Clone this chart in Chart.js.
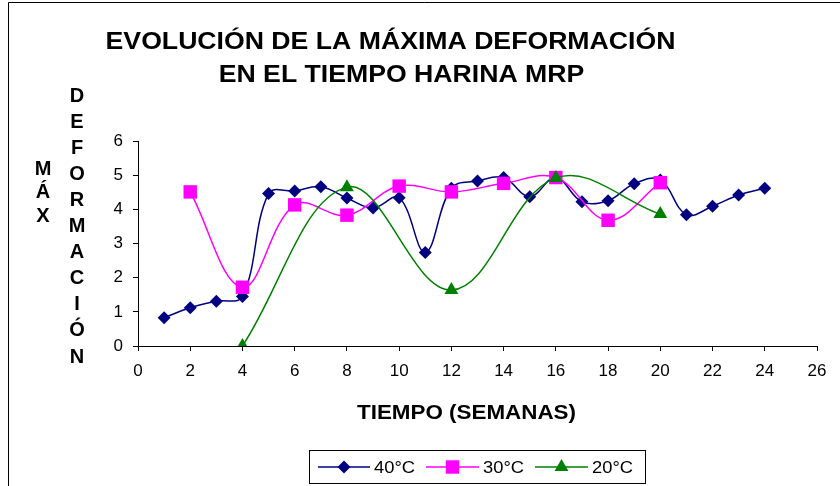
<!DOCTYPE html>
<html>
<head>
<meta charset="utf-8">
<style>
  html, body { margin: 0; padding: 0; background: #ffffff; }
  #wrap { position: relative; width: 840px; height: 486px; }
</style>
<script src="https://cdn.jsdelivr.net/npm/chart.js@4.4.1/dist/chart.umd.min.js"></script>
</head>
<body>
<div id="wrap"><canvas id="chart" width="840" height="486"></canvas></div>
<script>
// Weeks sampled for each temperature series
const weeks40 = [1, 2, 3, 4, 5, 6, 7, 8, 9, 10, 11, 12, 13, 14, 15, 16, 17, 18, 19, 20, 21, 22, 23, 24];
const deform40 = [0.83, 1.12, 1.31, 1.45, 4.46, 4.54, 4.66, 4.33, 4.04, 4.34, 2.74, 4.62, 4.83, 4.93, 4.37, 4.93, 4.22, 4.25, 4.75, 4.86, 3.84, 4.09, 4.42, 4.62];

const weeks30 = [2, 4, 6, 8, 10, 12, 14, 16, 18, 20];
const deform30 = [4.51, 1.72, 4.13, 3.83, 4.68, 4.51, 4.76, 4.93, 3.68, 4.78];

const weeks20 = [4, 8, 12, 16, 20];
const deform20 = [0, 4.65, 1.64, 4.92, 3.86];

const seriesNames = ['40°C', '30°C', '20°C'];
const titleLines = ['EVOLUCIÓN DE LA MÁXIMA DEFORMACIÓN', 'EN EL TIEMPO HARINA MRP'];
const xTitle = 'TIEMPO (SEMANAS)';
const yTitleWords = ['MÁX', 'DEFORMACIÓN'];

const FONT = '"Liberation Sans", Arial, sans-serif';

function toPoints(xs, ys) {
  return xs.map((x, i) => ({ x: x, y: ys[i] }));
}

// Text drawn with a slight horizontal widening
function wideText(ctx, text, x, y, sx) {
  ctx.save();
  ctx.translate(x, y);
  ctx.scale(sx, 1);
  ctx.fillText(text, 0, 0);
  ctx.restore();
}

const styles = [
  { color: '#000080', pointStyle: 'rectRot', radius: 6.5 },
  { color: '#FF00FF', pointStyle: 'rect', radius: 9.5 },
  { color: '#008000', pointStyle: 'triangle', radius: 8 }
];

// Titles, stacked y-axis caption, legend box and frame lines
const decorPlugin = {
  id: 'decor',
  afterDraw(chart) {
    const ctx = chart.ctx;
    ctx.save();

    // frame
    ctx.strokeStyle = '#000000';
    ctx.lineWidth = 1;
    ctx.beginPath();
    ctx.moveTo(8.5, 486);
    ctx.lineTo(8.5, 2.5);
    ctx.lineTo(840, 2.5);
    ctx.stroke();

    ctx.fillStyle = '#000000';
    ctx.textAlign = 'center';
    ctx.textBaseline = 'middle';

    // main title
    ctx.font = 'bold 24px ' + FONT;
    wideText(ctx, titleLines[0], 390.5, 42, 1.11);
    wideText(ctx, titleLines[1], 401.5, 75, 1.11);

    // x-axis title
    ctx.font = 'bold 20px ' + FONT;
    wideText(ctx, xTitle, 466.5, 413, 1.12);

    // y-axis title, letters stacked vertically
    ctx.font = 'bold 20px ' + FONT;
    const w1 = Array.from(yTitleWords[0]);
    w1.forEach((ch, i) => ctx.fillText(ch, 43, 169 + i * 23.5));
    const w2 = Array.from(yTitleWords[1]);
    w2.forEach((ch, i) => ctx.fillText(ch, 77, 96 + i * 26.1));

    // legend
    ctx.strokeStyle = '#000000';
    ctx.lineWidth = 1;
    ctx.strokeRect(309.5, 450.5, 336, 33);
    const entries = [
      { x0: 318, x1: 370, tx: 374 },
      { x0: 426, x1: 479, tx: 483 },
      { x0: 535, x1: 588, tx: 592 }
    ];
    const ly = 467;
    ctx.font = '17px ' + FONT;
    ctx.textAlign = 'left';
    entries.forEach((e, i) => {
      const s = styles[i];
      ctx.strokeStyle = s.color;
      ctx.lineWidth = 1.5;
      ctx.beginPath();
      ctx.moveTo(e.x0, ly);
      ctx.lineTo(e.x1, ly);
      ctx.stroke();
      ctx.fillStyle = s.color;
      Chart.helpers.drawPoint(ctx, {
        pointStyle: s.pointStyle,
        radius: s.radius,
        rotation: 0,
        borderWidth: 0
      }, (e.x0 + e.x1) / 2, ly);
      ctx.fillStyle = '#000000';
      wideText(ctx, seriesNames[i], e.tx, ly + 1, 1.08);
    });

    ctx.restore();
  }
};

const datasets = [
  { data: toPoints(weeks40, deform40), order: 3 },
  { data: toPoints(weeks30, deform30), order: 2 },
  { data: toPoints(weeks20, deform20), order: 1 }
].map((d, i) => Object.assign(d, {
  label: seriesNames[i],
  borderColor: styles[i].color,
  backgroundColor: styles[i].color,
  pointBackgroundColor: styles[i].color,
  pointBorderColor: styles[i].color,
  pointBorderWidth: 0,
  pointStyle: styles[i].pointStyle,
  pointRadius: styles[i].radius,
  pointHoverRadius: styles[i].radius,
  borderWidth: 1.5,
  tension: 0.38,
  fill: false
}));

new Chart(document.getElementById('chart'), {
  type: 'line',
  data: { datasets: datasets },
  plugins: [decorPlugin],
  options: {
    responsive: false,
    animation: false,
    events: [],
    layout: { padding: { left: 0, right: 23, top: 141, bottom: 0 } },
    plugins: {
      legend: { display: false },
      title: { display: false },
      tooltip: { enabled: false }
    },
    scales: {
      x: {
        type: 'linear',
        min: 0,
        max: 26,
        ticks: {
          stepSize: 2,
          color: '#000000',
          font: { family: FONT, size: 17 },
          padding: 10,
          maxRotation: 0
        },
        grid: {
          drawOnChartArea: false,
          drawTicks: true,
          tickLength: 5,
          color: '#000000'
        },
        border: { color: '#000000', width: 1 },
        afterFit(scale) { scale.height = 140; }
      },
      y: {
        type: 'linear',
        min: 0,
        max: 6,
        ticks: {
          stepSize: 1,
          color: '#000000',
          font: { family: FONT, size: 17 },
          padding: 10
        },
        grid: {
          drawOnChartArea: false,
          drawTicks: true,
          tickLength: 5,
          color: '#000000'
        },
        border: { color: '#000000', width: 1 },
        afterFit(scale) { scale.width = 138; }
      }
    }
  }
});
</script>
</body>
</html>
